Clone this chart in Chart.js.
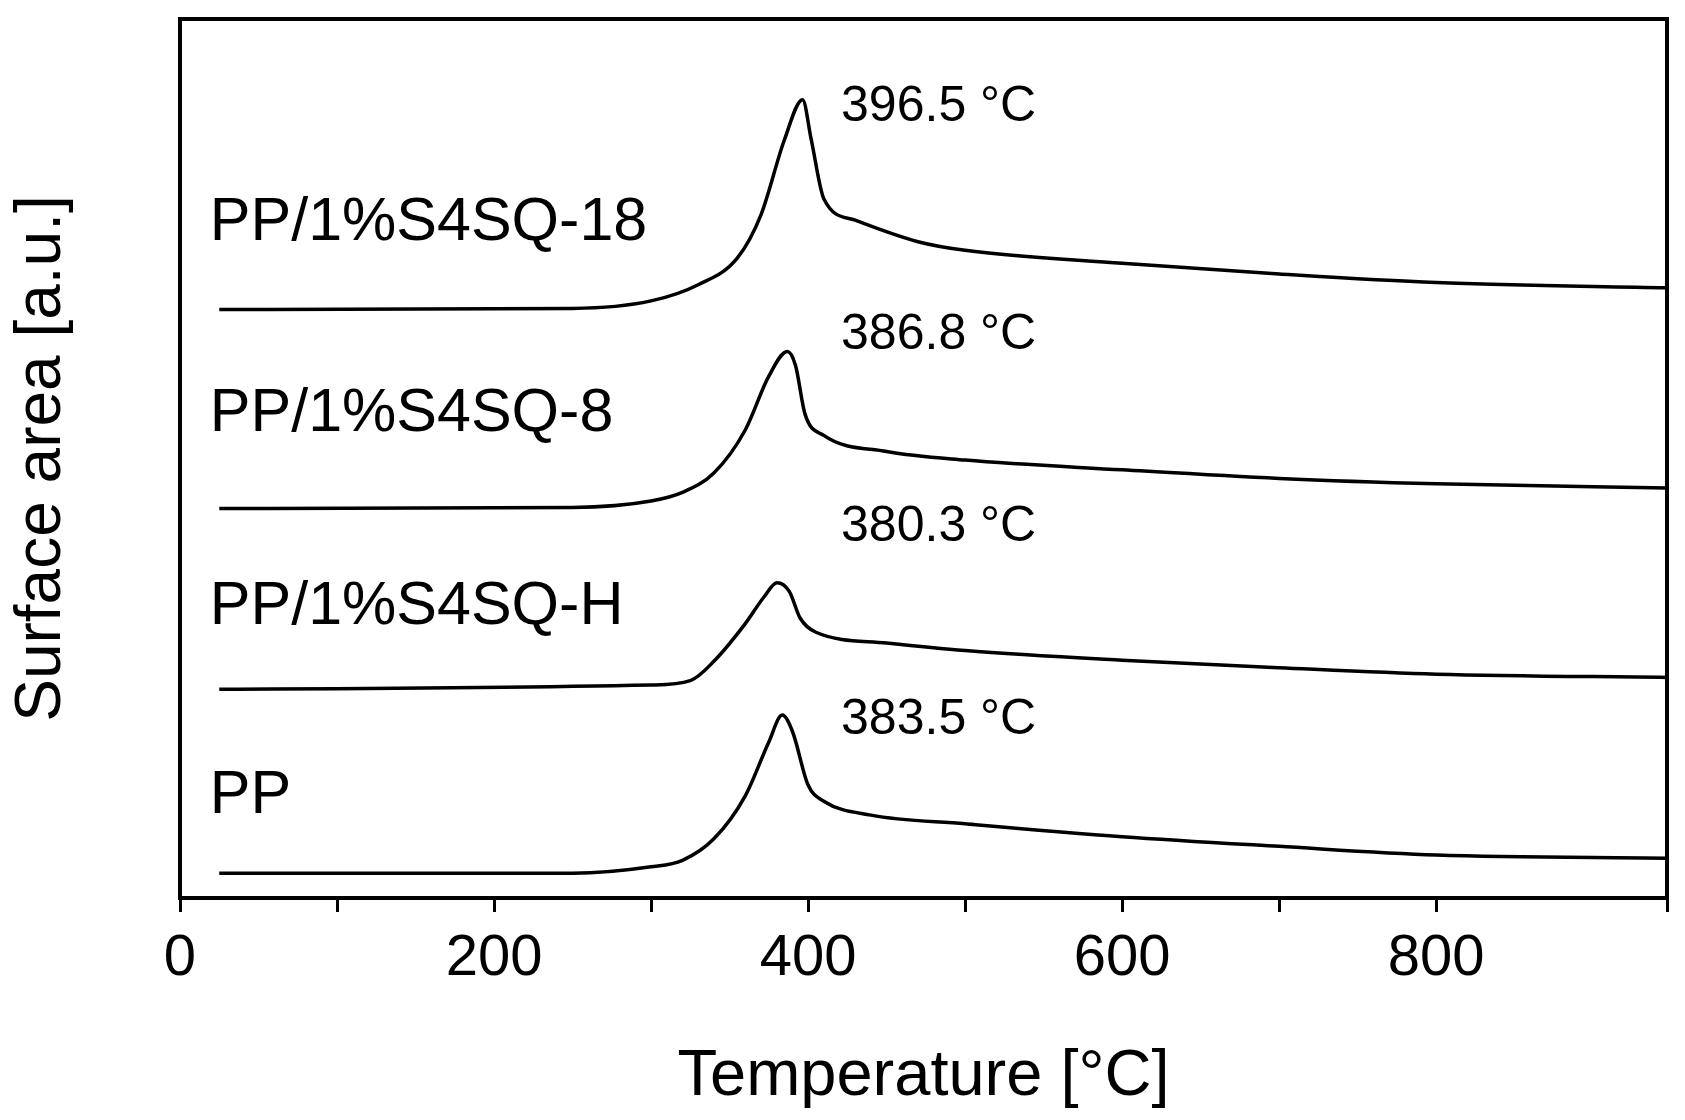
<!DOCTYPE html>
<html><head><meta charset="utf-8">
<script src="https://cdn.jsdelivr.net/npm/chart.js@4"></script>
<style>body{margin:0;background:#fff}canvas{display:block}</style>
</head><body>
<div style="width:1685px;height:1120px"><canvas id="c"></canvas></div>
<script>
// temperature [°C] and signal (arbitrary, stacked offsets)
const tempPP = [25, 250, 300, 320, 340, 360, 375, 383.5, 390, 400, 410, 440, 500, 600, 700, 800, 950];
const valPP  = [23, 23, 29, 35, 55, 95, 145, 170, 155, 105, 90, 77, 69, 57, 48, 40, 37];
const tempH = [25, 300, 325, 340, 360, 372, 380.3, 388, 395, 405, 450, 500, 600, 700, 800, 950];
const valH  = [194, 198, 202, 220, 255, 280, 293, 285, 260, 247, 237, 230, 221, 214, 208, 205];
const temp8 = [25, 250, 300, 320, 340, 360, 375, 386.8, 392, 398, 410, 450, 500, 600, 700, 800, 950];
const val8  = [362, 363, 369, 377, 395, 435, 485, 508, 495, 450, 430, 415, 407, 398, 390, 385, 381];
const temp18 = [25, 250, 300, 330, 355, 370, 385, 396.5, 402, 410, 430, 470, 500, 600, 700, 800, 950];
const val18  = [547, 548, 555, 570, 595, 635, 705, 742, 705, 650, 630, 610, 602, 590, 580, 572, 567];
const seriesNames = ["PP", "PP/1%S4SQ-H", "PP/1%S4SQ-8", "PP/1%S4SQ-18"];
const peakLabels = ["383.5 °C", "380.3 °C", "386.8 °C", "396.5 °C"];
const nameY = [95, 270, 450, 627];
const peakY = [165, 345, 523, 735];

const pts = (xs, ys) => xs.map((x, i) => ({x: x, y: ys[i]}));
const F = "'Liberation Sans', Arial, sans-serif";

const annot = {
  id: "annot",
  afterDatasetsDraw(chart) {
    const c = chart.ctx, a = chart.chartArea, x = chart.scales.x, y = chart.scales.y;
    c.save();
    c.strokeStyle = "#000"; c.lineWidth = 4;
    c.strokeRect(a.left, a.top, a.right - a.left, a.bottom - a.top);
    c.fillStyle = "#000"; c.textBaseline = "middle"; c.textAlign = "left";
    c.font = "61px " + F;
    seriesNames.forEach((n, i) => c.fillText(n, x.getPixelForValue(19), y.getPixelForValue(nameY[i])));
    c.font = "50px " + F;
    peakLabels.forEach((n, i) => c.fillText(n, x.getPixelForValue(421), y.getPixelForValue(peakY[i])));
    c.restore();
  }
};

new Chart(document.getElementById("c"), {
  type: "line",
  data: { datasets: [
    { data: pts(tempPP, valPP) },
    { data: pts(tempH, valH) },
    { data: pts(temp8, val8) },
    { data: pts(temp18, val18) }
  ].map(d => Object.assign(d, { borderColor: "#000", borderWidth: 3.5, pointRadius: 0, tension: 0.4, cubicInterpolationMode: "monotone", fill: false })) },
  options: {
    responsive: true, maintainAspectRatio: false, animation: false,
    layout: { padding: { top: 19, right: 18, left: 0, bottom: 0 } },
    plugins: { legend: { display: false }, tooltip: { enabled: false } },
    scales: {
      x: {
        type: "linear", min: 0, max: 947,
        afterFit: s => { s.height = 222; },
        border: { color: "#000", width: 4 },
        grid: { drawOnChartArea: false, color: "#000", lineWidth: 3, tickLength: 14 },
        ticks: { stepSize: 100, color: "#000", font: { family: F, size: 58 }, padding: 12, maxRotation: 0,
                 callback: v => v % 200 === 0 ? v : "" },
        title: { display: true, text: "Temperature [°C]", color: "#000", font: { family: F, size: 65 }, padding: { top: 10 } }
      },
      y: {
        min: 0, max: 817,
        afterFit: s => { s.width = 180; },
        border: { color: "#000", width: 4 },
        grid: { display: false },
        ticks: { display: false },
        title: { display: true, text: "Surface area [a.u.]", color: "#000", font: { family: F, size: 64 }, padding: { bottom: 40 } }
      }
    }
  },
  plugins: [annot]
});
</script>
</body></html>
